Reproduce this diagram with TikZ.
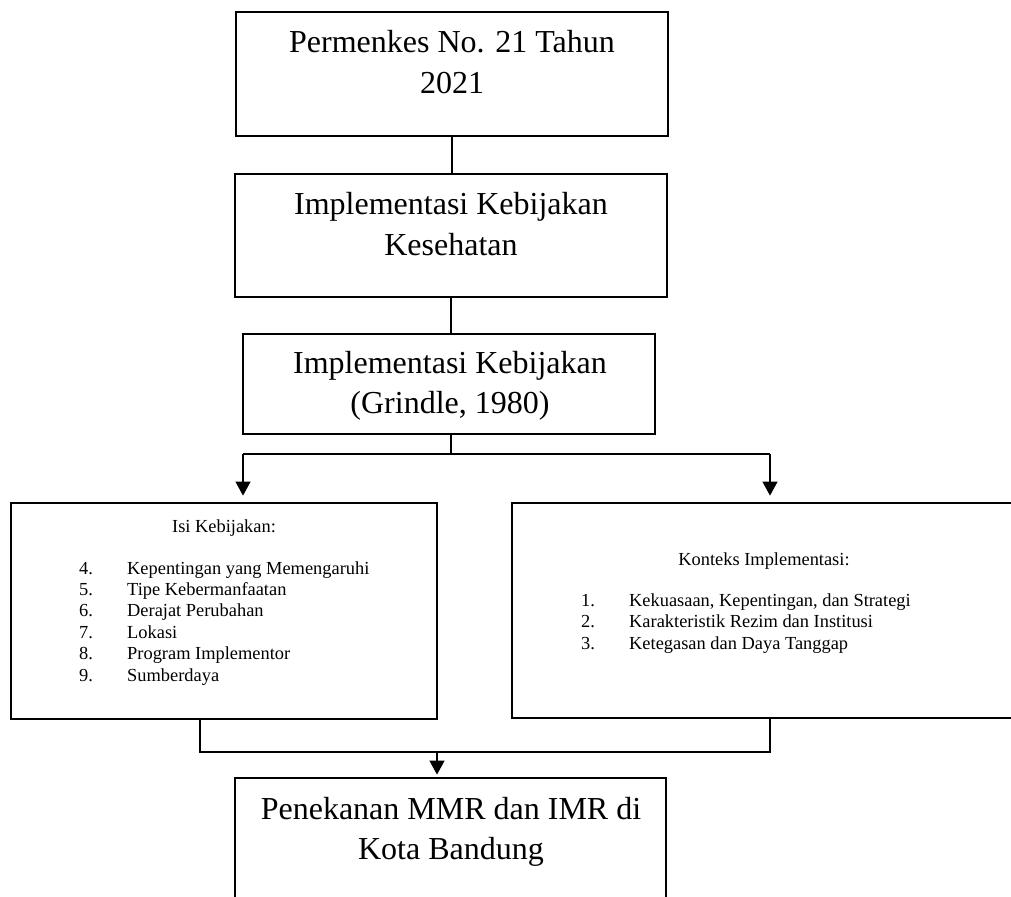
\documentclass[tikz,border=0pt]{standalone}
\usepackage{fontspec}
\setmainfont{Liberation Serif}
\usetikzlibrary{arrows.meta,calc}
\begin{document}
\begin{tikzpicture}[x=1pt,y=-1pt,
  box/.style={draw,line width=2.8pt,inner sep=0pt,rectangle},
  big/.style={font=\fontsize{32}{38}\selectfont,anchor=base,inner sep=0pt},
  small/.style={font=\fontsize{18.4}{22}\selectfont,inner sep=0pt},
  conn/.style={line width=1.2pt},
  arr/.style={conn,-{Triangle[length=14pt,width=15pt]}}]
\useasboundingbox[fill=white] (0,0) rectangle (1011,896);

% boxes
\node[box,minimum width=432pt,minimum height=124pt] (b1) at (452,74) {};
\node[box,minimum width=432pt,minimum height=123pt] (b2) at (451,235.5) {};
\node[box,minimum width=412pt,minimum height=100pt] (b3) at (449,384) {};
\node[box,minimum width=426pt,minimum height=216pt] (isi) at (224,611) {};
\node[box,minimum width=508pt,minimum height=215pt] (kon) at (766,610.5) {};
\node[box,minimum width=431pt,minimum height=132pt] (bot) at (450.5,844) {};

% texts
\node[big] (t1a) at (452,53) {Permenkes No. 21 Tahun};
\node[big] (t1b) at (452,94) {2021};
\node[big] (t2a) at (451,214) {Implementasi Kebijakan};
\node[big] (t2b) at (451,255) {Kesehatan};
\node[big] (t3a) at (450,373) {Implementasi Kebijakan};
\node[big] (t3b) at (450,413) {(Grindle, 1980)};
\node[big] (t6a) at (451,819) {Penekanan MMR dan IMR di};
\node[big] (t6b) at (451,859) {Kota Bandung};

\node[small,anchor=base] (isit) at (224,532) {Isi Kebijakan:};
\foreach \k/\txt [count=\i from 0] in {4/Kepentingan yang Memengaruhi,5/Tipe Kebermanfaatan,6/Derajat Perubahan,7/Lokasi,8/Program Implementor,9/Sumberdaya}{
  \node[small,anchor=base west] (isin\k) at (79,574+21.4*\i) {\k.};
  \node[small,anchor=base west] (isix\k) at (127,574+21.4*\i) {\txt};
}
\node[small,anchor=base] (kont) at (764,565) {Konteks Implementasi:};
\foreach \k/\txt [count=\i from 0] in {1/{Kekuasaan, Kepentingan, dan Strategi},2/Karakteristik Rezim dan Institusi,3/Ketegasan dan Daya Tanggap}{
  \node[small,anchor=base west] (konn\k) at (581,606+21.5*\i) {\k.};
  \node[small,anchor=base west] (konx\k) at (629,606+21.5*\i) {\txt};
}

% connectors
\draw[conn] (b1.south) -- (b1.south |- b2.north);
\draw[conn] (b2.south) -- (b2.south |- b3.north);
\coordinate (jl) at (243,454);
\coordinate (jr) at (770,454);
\coordinate (jm) at (451,454);
\draw[conn] (jm |- b3.south) -- (jm);
\draw[conn] (jl) -- (jr);
\draw[arr,shorten >=6pt] (jl) -- (jl |- isi.north);
\draw[arr,shorten >=6pt] (jr) -- (jr |- kon.north);
\coordinate (ml) at (200,752);
\coordinate (mr) at (770,752);
\coordinate (mm) at (437,752);
\draw[conn] (isi.south -| ml) -- (ml) -- (mr) -- (kon.south -| mr);
\draw[arr,shorten >=2pt] (mm) -- (mm |- bot.north);
\end{tikzpicture}
\end{document}
